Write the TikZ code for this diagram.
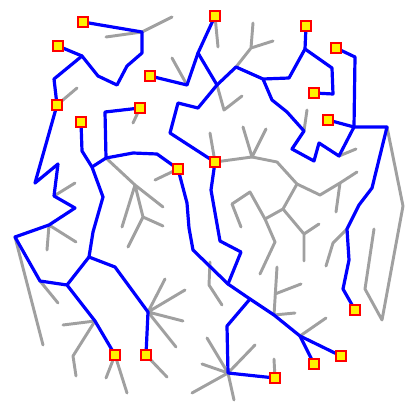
\documentclass[tikz,border=0pt]{standalone}
\definecolor{treegray}{RGB}{160,160,160}

\begin{document}
\begin{tikzpicture}[x=0.75pt,y=-0.75pt,
    branch/.style={treegray, line width=2.2pt, line cap=round, line join=round},
    route/.style={blue, line width=2.4pt, line cap=round, line join=round},
    goal/.style={draw=red, fill=yellow, line width=1.5pt, minimum size=8pt, inner sep=0pt}]
    \path[use as bounding box] (0,0) rectangle (414,407);

    \coordinate (G1) at (83,22);
    \coordinate (G2) at (58,46);
    \coordinate (G3) at (57,105);
    \coordinate (G4) at (81,122);
    \coordinate (G5) at (140,108);
    \coordinate (G6) at (150,76);
    \coordinate (G7) at (178,169);
    \coordinate (G8) at (215,16);
    \coordinate (G9) at (306,26);
    \coordinate (G10) at (336,48);
    \coordinate (G11) at (314,93);
    \coordinate (G12) at (328,120);
    \coordinate (G13) at (215,162);
    \coordinate (G14) at (355,310);
    \coordinate (G15) at (115,355);
    \coordinate (G16) at (146,355);
    \coordinate (G17) at (275,378);
    \coordinate (G18) at (314,364);
    \coordinate (G19) at (341,356);

    \coordinate (a1) at (142,32);
    \coordinate (a2) at (82,56);
    \coordinate (a3) at (54,196);
    \coordinate (a4) at (49,225);
    \coordinate (a5) at (15,237);
    \coordinate (a6) at (40,281);
    \coordinate (a7) at (67,285);
    \coordinate (a8) at (89,257);
    \coordinate (a9) at (92,167);
    \coordinate (a10) at (106,158);
    \coordinate (a11) at (95,321);
    \coordinate (a12) at (148,312);
    \coordinate (b1) at (228,284);
    \coordinate (b2) at (250,299);
    \coordinate (b3) at (274,315);
    \coordinate (b4) at (300,336);
    \coordinate (b5) at (228,373);
    \coordinate (c1) at (217,85);
    \coordinate (c2) at (198,53);
    \coordinate (c3) at (187,85);
    \coordinate (c4) at (236,67);
    \coordinate (c5) at (263,79);
    \coordinate (c6) at (305,49);
    \coordinate (c7) at (304,131);
    \coordinate (c8) at (339,156);
    \coordinate (c9) at (354,127);
    \coordinate (c10) at (387,127);
    \coordinate (c11) at (347,229);
    \coordinate (d1) at (251,48);
    \coordinate (d2) at (252,157);
    \coordinate (d3) at (297,184);
    \coordinate (d4) at (340,183);
    \coordinate (d5) at (283,209);
    \coordinate (d6) at (265,219);
    \coordinate (d7) at (250,192);
    \coordinate (d8) at (304,234);
    \coordinate (d9) at (135,185);
    \coordinate (d10) at (143,217);

    \draw[branch] (106,37) -- (a1) -- (172,17);
    \draw[branch] (G3) -- (77,88);
    \draw[branch] (G5) -- (133,123);
    \draw[branch] (c3) -- (172,58);
    \draw[branch] (G8) -- (218,47);
    \draw[branch] (c4) -- (d1) -- (253,23) (d1) -- (273,41);
    \draw[branch] (c1) -- (224,110) -- (242,96);
    \draw[branch] (c7) -- (307,110);
    \draw[branch] (c8) -- (356,149);
    \draw[branch] (c10) -- (403,206) -- (382,320) -- (365,289) -- (374,229);
    \draw[branch] (G7) -- (155,180);
    \draw[branch] (G13) -- (210,133);
    \draw[branch] (G13) -- (d2) -- (243,127) (d2) -- (266,129);
    \draw[branch] (d2) -- (277,162) -- (d3) -- (320,195) -- (d4) -- (357,172) (d4) -- (336,212);
    \draw[branch] (d3) -- (d5) -- (d6) -- (d7) -- (232,204) -- (241,227);
    \draw[branch] (d6) -- (275,242) -- (260,274);
    \draw[branch] (d5) -- (d8) -- (319,224) (d8) -- (304,261);
    \draw[branch] (277,267) -- (b3) -- (295,313) (275,294) -- (301,284);
    \draw[branch] (b4) -- (326,318);
    \draw[branch] (c11) -- (333,243) -- (326,266);
    \draw[branch] (b5) -- (207,338) (b5) -- (202,364) (b5) -- (255,345) (b5) -- (192,393) (b5) -- (234,400);
    \draw[branch] (G17) -- (274,359);
    \draw[branch] (a12) -- (165,279) (a12) -- (185,290) (a12) -- (183,321) (a12) -- (176,347);
    \draw[branch] (G16) -- (167,377);
    \draw[branch] (G15) -- (106,378) (G15) -- (127,393);
    \draw[branch] (a11) -- (63,325) (a11) -- (73,356) -- (76,376);
    \draw[branch] (a6) -- (58,303);
    \draw[branch] (a5) -- (43,345);
    \draw[branch] (a4) -- (47,250) (a4) -- (76,242);
    \draw[branch] (a3) -- (75,183);
    \draw[branch] (a10) -- (d9) -- (122,227) (d9) -- (d10) -- (128,247) (d10) -- (163,226) (d9) -- (163,207);
    \draw[branch] (210,262) -- (209,285) -- (222,305);

    \draw[route] (G1) -- (a1) -- (142,53) -- (127,66) -- (117,85) -- (98,76) -- (a2) -- (54,79) -- (G3) -- (35,183) -- (58,164) -- (a3) -- (75,208) -- (a4) -- (a5) -- (a6) -- (a7) -- (a11) -- (G15);
    \draw[route] (G2) -- (a2);
    \draw[route] (a7) -- (a8) -- (115,267) -- (a12) -- (G16);
    \draw[route] (a8) -- (93,232) -- (103,197) -- (a9) -- (82,151) -- (G4);
    \draw[route] (a9) -- (a10) -- (105,112) -- (G5);
    \draw[route] (a10) -- (133,153) -- (157,154) -- (G7) -- (187,203) -- (189,228) -- (193,250) -- (b1) -- (b2) -- (b3) -- (b4) -- (G19);
    \draw[route] (b4) -- (G18);
    \draw[route] (b2) -- (227,326) -- (b5) -- (G17);
    \draw[route] (b1) -- (241,252) -- (220,241) -- (211,190) -- (G13) -- (207,157) -- (170,133) -- (178,103) -- (198,108) -- (c1) -- (c4) -- (c5) -- (289,78) -- (c6) -- (G9);
    \draw[route] (c1) -- (c2) -- (G8);
    \draw[route] (c2) -- (c3) -- (G6);
    \draw[route] (c6) -- (332,68) -- (333,94) -- (G11);
    \draw[route] (c5) -- (272,100) -- (287,112) -- (c7) -- (292,149) -- (314,161) -- (319,143) -- (c8) -- (c9) -- (G12);
    \draw[route] (c9) -- (355,57) -- (G10);
    \draw[route] (c9) -- (c10) -- (372,188) -- (359,205) -- (c11) -- (349,260) -- (343,289) -- (G14);

    \foreach \g in {1,...,19}
        \node[goal] (goal\g) at (G\g) {};
\end{tikzpicture}
\end{document}
